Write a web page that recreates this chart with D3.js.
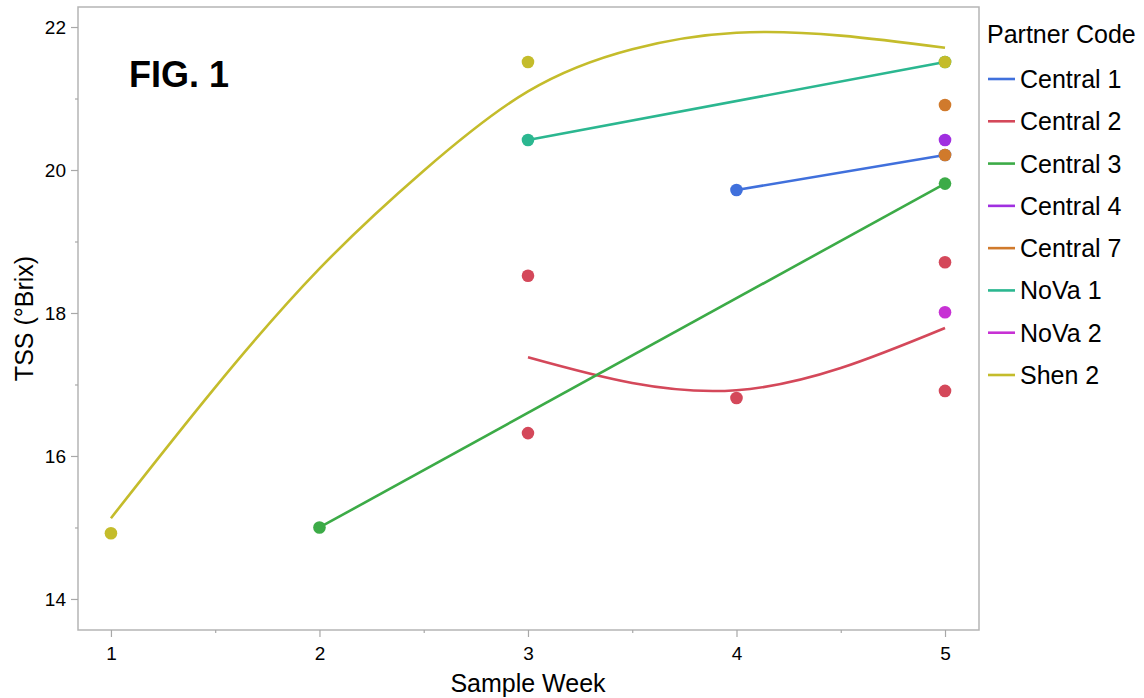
<!DOCTYPE html>
<html>
<head>
<meta charset="utf-8">
<script src="https://cdn.jsdelivr.net/npm/d3@7"></script>
<style>
  body { margin: 0; background: #fff; }
  svg text { font-family: Helvetica, Arial, "Liberation Sans", sans-serif; fill: #000; }
</style>
</head>
<body>
<script>
// partner codes + their colours (legend order)
const partnerCodes = ["Central 1", "Central 2", "Central 3", "Central 4", "Central 7", "NoVa 1", "NoVa 2", "Shen 2"];
const partnerColors = ["#4070dc", "#d4485a", "#3cab47", "#a02fe0", "#d07a2c", "#2bb790", "#c731d4", "#c4bc2b"];

// observations
const obsPartner = ["Central 1", "Central 1",
                    "Central 2", "Central 2", "Central 2", "Central 2", "Central 2",
                    "Central 3", "Central 3",
                    "Central 4",
                    "Central 7", "Central 7",
                    "NoVa 1", "NoVa 1",
                    "NoVa 2",
                    "Shen 2", "Shen 2", "Shen 2"];
const obsWeek = [4, 5,
                 3, 3, 4, 5, 5,
                 2, 5,
                 5,
                 5, 5,
                 3, 5,
                 5,
                 1, 3, 5];
const obsTss = [19.72, 20.21,
                18.52, 16.32, 16.81, 18.71, 16.91,
                15.0, 19.81,
                20.42,
                20.91, 20.21,
                20.42, 21.51,
                18.01,
                14.92, 21.51, 21.51];

// fitted lines
const fitPartner = ["Central 1", "Central 2", "Central 3", "NoVa 1", "Shen 2"];
const fitWeeks = [
  [4, 5],
  [3, 3.5, 4, 4.5, 5],
  [2, 5],
  [3, 5],
  [1, 1.5, 2, 2.5, 3, 3.5, 4, 4.5, 5]
];
const fitTss = [
  [19.72, 20.21],
  [17.38, 17.02, 16.92, 17.23, 17.79],
  [15.0, 19.81],
  [20.42, 21.51],
  [15.13, 16.96, 18.62, 19.99, 21.10, 21.69, 21.92, 21.88, 21.71]
];

const yMajor = [14, 16, 18, 20, 22];
const yMinor = [15, 17, 19, 21];
const xMajor = [1, 2, 3, 4, 5];
const xMinor = [1.5, 2.5, 3.5, 4.5];

let w = 1144;
let h = 698;
let plotL = 78, plotT = 7, plotR = 979, plotB = 630;

let svg = d3.select("body")
    .append("svg")
    .attr("width", w)
    .attr("height", h);

let x = d3.scaleLinear().domain([0.842, 5.163]).range([plotL, plotR]);
let y = d3.scaleLinear().domain([13.566, 22.28]).range([plotB, plotT]);
let color = d3.scaleOrdinal().domain(partnerCodes).range(partnerColors);

// frame
svg.append("rect")
    .attr("x", plotL).attr("y", plotT)
    .attr("width", plotR - plotL).attr("height", plotB - plotT)
    .attr("fill", "none")
    .attr("stroke", "#b5b5b5")
    .attr("stroke-width", 1.5);

function styleAxis(g) {
  g.select(".domain").remove();
  g.selectAll(".tick line").attr("stroke", "#a8a8a8").attr("stroke-width", 1.2);
  g.selectAll(".tick text").style("font-size", "19px").attr("fill", "#000");
}

svg.append("g")
    .attr("transform", `translate(${plotL},0)`)
    .call(d3.axisLeft(y).tickValues(yMajor).tickFormat(d3.format("d")).tickSize(7).tickPadding(5))
    .call(styleAxis);
svg.append("g")
    .attr("transform", `translate(${plotL},0)`)
    .call(d3.axisLeft(y).tickValues(yMinor).tickSize(3).tickFormat(""))
    .call(styleAxis);

svg.append("g")
    .attr("transform", `translate(0,${plotB})`)
    .call(d3.axisBottom(x).tickValues(xMajor).tickFormat(d3.format("d")).tickSize(7).tickPadding(10))
    .call(styleAxis);
svg.append("g")
    .attr("transform", `translate(0,${plotB})`)
    .call(d3.axisBottom(x).tickValues(xMinor).tickSize(3).tickFormat(""))
    .call(styleAxis);

// axis titles
svg.append("text")
    .attr("x", (x(1) + x(5)) / 2)
    .attr("y", 692)
    .attr("text-anchor", "middle")
    .style("font-size", "25px")
    .text("Sample Week");

svg.append("text")
    .attr("transform", `translate(33,${(plotT + plotB) / 2}) rotate(-90)`)
    .attr("text-anchor", "middle")
    .style("font-size", "25px")
    .text("TSS (°Brix)");

svg.append("text")
    .attr("x", 129)
    .attr("y", 87)
    .style("font-size", "36px")
    .style("font-weight", "bold")
    .text("FIG. 1");

// fits
let line = d3.line()
    .x(d => x(d[0]))
    .y(d => y(d[1]))
    .curve(d3.curveNatural);

svg.append("g")
  .selectAll("path")
  .data(fitPartner)
  .enter()
  .append("path")
    .attr("d", (d, i) => line(d3.zip(fitWeeks[i], fitTss[i])))
    .attr("fill", "none")
    .attr("stroke", d => color(d))
    .attr("stroke-width", 2.6);

// points, in legend order so later partners sit on top
let obs = d3.range(obsWeek.length)
    .sort((a, b) => partnerCodes.indexOf(obsPartner[a]) - partnerCodes.indexOf(obsPartner[b]));

svg.append("g")
  .selectAll("circle")
  .data(obs)
  .enter()
  .append("circle")
    .attr("cx", i => x(obsWeek[i]))
    .attr("cy", i => y(obsTss[i]))
    .attr("r", 6.3)
    .attr("fill", i => color(obsPartner[i]));

// legend
let legend = svg.append("g");
legend.append("text")
    .attr("x", 987)
    .attr("y", 43)
    .style("font-size", "25px")
    .text("Partner Code");

let rowY = d3.scalePoint().domain(partnerCodes).range([79, 375]);

let rows = legend.selectAll("g.row")
  .data(partnerCodes)
  .enter()
  .append("g")
    .attr("class", "row")
    .attr("transform", d => `translate(0,${rowY(d)})`);

rows.append("line")
    .attr("x1", 988).attr("x2", 1015)
    .attr("stroke", d => color(d))
    .attr("stroke-width", 2.6);

rows.append("text")
    .attr("x", 1020)
    .attr("dy", "0.36em")
    .style("font-size", "25px")
    .text(d => d);
</script>
</body>
</html>
